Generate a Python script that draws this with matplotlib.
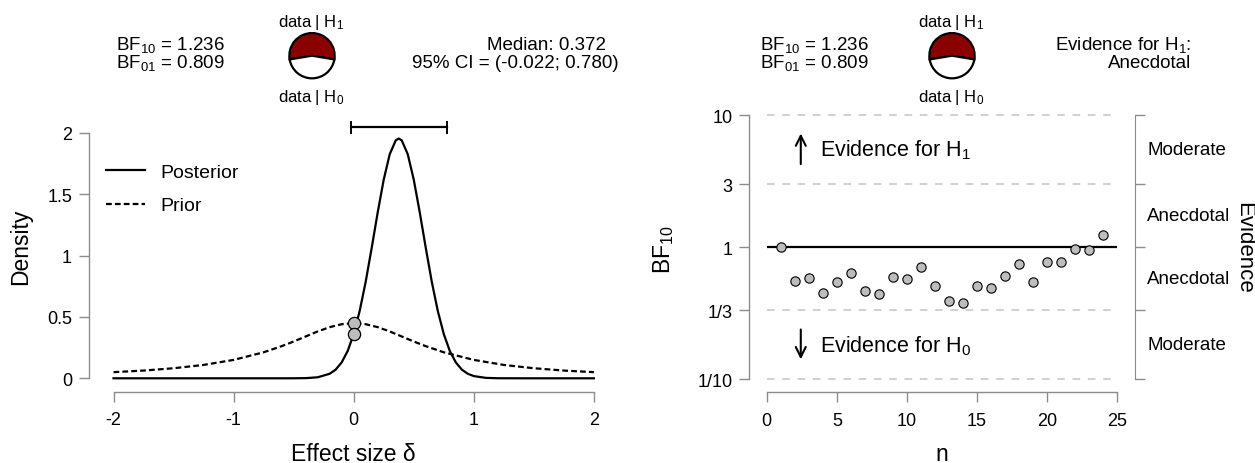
import numpy as np
import matplotlib
matplotlib.use("Agg")
import matplotlib.pyplot as plt
from matplotlib.patches import Wedge
from matplotlib.transforms import blended_transform_factory

plt.rcParams['font.family'] = ['Liberation Sans', 'DejaVu Sans']
plt.rcParams['mathtext.fontset'] = 'custom'
plt.rcParams['mathtext.rm'] = 'Liberation Sans'
plt.rcParams['mathtext.it'] = 'Liberation Sans:italic'

# ---------------------------------------------------------------
# data
# ---------------------------------------------------------------
post_x = [-2, -1, -0.6, -0.5, -0.4, -0.3, -0.2, -0.15, -0.1, -0.05, 0, 0.05, 0.1, 0.15,
          0.2, 0.25, 0.3, 0.35, 0.375, 0.4, 0.45, 0.5, 0.55, 0.6, 0.65, 0.7, 0.75, 0.8,
          0.85, 0.9, 0.95, 1.0, 1.1, 1.2, 1.4, 2]
post_y = [0, 0, 0, 0.0002, 0.0014, 0.0082, 0.037, 0.071, 0.130, 0.223, 0.361, 0.550, 0.788,
          1.064, 1.353, 1.620, 1.827, 1.940, 1.955, 1.940, 1.827, 1.620, 1.353, 1.064, 0.788,
          0.550, 0.361, 0.223, 0.130, 0.071, 0.037, 0.018, 0.0035, 0.0005, 0, 0]
prior_x = [-2, -1.75, -1.5, -1.25, -1, -0.75, -0.6, -0.5, -0.4, -0.3, -0.2, -0.1, 0,
           0.1, 0.2, 0.3, 0.4, 0.5, 0.6, 0.75, 1, 1.25, 1.5, 1.75, 2]
prior_y = [0.050, 0.063, 0.082, 0.109, 0.150, 0.212, 0.262, 0.300, 0.341, 0.382, 0.417,
           0.441, 0.450, 0.441, 0.417, 0.382, 0.341, 0.300, 0.262, 0.212, 0.150, 0.109,
           0.082, 0.063, 0.050]
dens_at_zero = [0.45, 0.36]
ci_low, ci_high = -0.022, 0.780
bf10, bf01 = 1.236, 0.809

n_obs = list(range(1, 25))
bf_seq = [1.0, 0.553, 0.583, 0.452, 0.544, 0.636, 0.465, 0.441, 0.593, 0.573, 0.710, 0.504,
          0.393, 0.381, 0.507, 0.495, 0.600, 0.752, 0.544, 0.778, 0.766, 0.971, 0.954, 1.236]
bf_ticks = [1 / 10, 1 / 3, 1, 3, 10]
bf_ticklabels = ["1/10", "1/3", "1", "3", "10"]
evid_pos = [np.sqrt(30), np.sqrt(3), 1 / np.sqrt(3), 1 / np.sqrt(30)]
evid_labels = ["Moderate", "Anecdotal", "Anecdotal", "Moderate"]

W, H = 1255, 464
GREY = "#8c8c8c"
DOT = "#bdbdbd"
RED = "#8b0000"

fig = plt.figure(figsize=(W / 100, H / 100), dpi=100)


def px(x0, y0, w, h):
    # pixel box (top-left origin) -> figure fraction rect
    return [x0 / W, 1 - (y0 + h) / H, w / W, h / H]


def ftext(x, y, s, **kw):
    return fig.text(x / W, 1 - y / H, s, **kw)


def style_spines(ax, left_out, bottom_out):
    ax.spines['top'].set_visible(False)
    ax.spines['right'].set_visible(False)
    for s in ('left', 'bottom'):
        ax.spines[s].set_color(GREY)
        ax.spines[s].set_linewidth(1.0)
    ax.spines['left'].set_position(('outward', left_out))
    ax.spines['bottom'].set_position(('outward', bottom_out))
    ax.tick_params(colors=GREY, length=7.2, width=1.0, labelcolor='black', labelsize=13)
    ax.tick_params(axis='y', pad=5)
    ax.tick_params(axis='x', pad=7)


def pie(cx, cy, d, share):
    pa = fig.add_axes(px(cx - d / 2, cy - d / 2, d, d))
    pa.set_xlim(-1.06, 1.06)
    pa.set_ylim(-1.06, 1.06)
    pa.axis('off')
    a = share * 180
    pa.add_patch(Wedge((0, 0), 1, 90 - a, 90 + a, facecolor=RED, edgecolor='black', lw=1.6))
    pa.add_patch(Wedge((0, 0), 1, 90 + a, 450 - a, facecolor='white', edgecolor='black', lw=1.6))


def header(x_left, x_pie, x_right, right_lines):
    ftext(x_left, 50, r"BF$_{\mathregular{10}}$ = %.3f" % bf10, ha='left', va='baseline',
          fontsize=13.5)
    ftext(x_left, 68, r"BF$_{\mathregular{01}}$ = %.3f" % bf01, ha='left', va='baseline',
          fontsize=13.5)
    ftext(x_pie, 27, r"data | H$_{\mathregular{1}}$", ha='center', va='baseline', fontsize=12)
    ftext(x_pie, 102, r"data | H$_{\mathregular{0}}$", ha='center', va='baseline', fontsize=12)
    pie(x_pie + 1, 56.7, 48, bf10 / (1 + bf10))
    for (xr, yb, s) in zip(x_right, (50, 68), right_lines):
        ftext(xr, yb, s, ha='right', va='baseline', fontsize=13.5)


# ---------------------------------------------------------------
# left: prior and posterior
# ---------------------------------------------------------------
ax1 = fig.add_axes(px(113.5, 134, 480.4, 245.3))
ax1.set_xlim(-2, 2)
ax1.set_ylim(0, 2)
ax1.patch.set_visible(False)
style_spines(ax1, 17.6, 9.6)
ax1.spines['left'].set_bounds(0, 2)
ax1.spines['bottom'].set_bounds(-2, 2)
ax1.set_yticks([0, 0.5, 1, 1.5, 2])
ax1.set_yticklabels(["0", "0.5", "1", "1.5", "2"])
ax1.set_xticks([-2, -1, 0, 1, 2])
ax1.set_xticklabels(["-2", "-1", "0", "1", "2"])

ax1.plot(post_x, post_y, color='black', lw=1.6, clip_on=False, label="Posterior")
ax1.plot(prior_x, prior_y, color='black', lw=1.6, ls=(0, (2.6, 1.4)), clip_on=False,
         label="Prior")
ax1.plot([0, 0], dens_at_zero, ls='none', marker='o', ms=8.8, mfc=DOT, mec='black',
         mew=0.9, clip_on=False, zorder=5)

# credible interval bar
ax1.plot([ci_low, ci_high], [2.046, 2.046], color='black', lw=1.6, clip_on=False)
for xv in (ci_low, ci_high):
    ax1.plot([xv, xv], [2.0, 2.09], color='black', lw=1.4, clip_on=False)

ax1.legend(loc='upper left', bbox_to_anchor=(-0.0156, 0.875), frameon=False, fontsize=14,
           handlelength=2.0, handletextpad=0.8, labelspacing=0.8, borderpad=0,
           borderaxespad=0)

ftext(20.4, 246.7, "Density", rotation=90, ha='center', va='center', fontsize=16.5)
ftext(353, 455, "Effect size δ", ha='center', va='center', fontsize=16.5)

header(116.3, 311, (606, 618.4),
       ["Median: 0.372", "95%% CI = (%.3f; %.3f)" % (ci_low, ci_high)])

# ---------------------------------------------------------------
# right: sequential Bayes factor
# ---------------------------------------------------------------
ax2 = fig.add_axes(px(766.7, 116, 350.6, 264.3))
ax2.set_yscale('log')
ax2.set_xlim(0, 25)
ax2.set_ylim(1 / 10, 10)
ax2.patch.set_visible(False)
style_spines(ax2, 12.5, 9.4)
ax2.spines['left'].set_bounds(1 / 10, 10)
ax2.spines['bottom'].set_bounds(0, 25)
ax2.set_yticks(bf_ticks)
ax2.set_yticklabels(bf_ticklabels)
ax2.yaxis.set_minor_locator(matplotlib.ticker.NullLocator())
ax2.set_xticks([0, 5, 10, 15, 20, 25])

for yv in (1 / 10, 1 / 3, 3, 10):
    ax2.plot([0, 25], [yv, yv], color="#c4c4c4", lw=1.1, ls=(0, (5, 5)), clip_on=False)
ax2.plot([0, 25], [1, 1], color='black', lw=1.6)
ax2.plot(n_obs, bf_seq, ls='none', marker='o', ms=6.7, mfc=DOT, mec='black', mew=0.8,
         zorder=5, clip_on=False)

ax2.annotate("", xy=(2.43, 7.6), xytext=(2.43, 4.05),
             arrowprops=dict(arrowstyle='->', lw=1.5, color='black', mutation_scale=18))
ax2.annotate("", xy=(2.43, 0.135), xytext=(2.43, 0.25),
             arrowprops=dict(arrowstyle='->', lw=1.5, color='black', mutation_scale=18))
ax2.text(3.83, np.sqrt(30), r"Evidence for H$_{\mathregular{1}}$", ha='left', va='center',
         fontsize=15.5)
ax2.text(3.83, 1 / np.sqrt(30), r"Evidence for H$_{\mathregular{0}}$", ha='left',
         va='center', fontsize=15.5)

# evidence axis on the right
ev = ax2.twinx()
ev.set_yscale('log')
ev.set_ylim(1 / 10, 10)
for s in ('top', 'left', 'bottom'):
    ev.spines[s].set_visible(False)
ev.spines['right'].set_color(GREY)
ev.spines['right'].set_position(('outward', 12.7))
ev.spines['right'].set_bounds(1 / 10, 10)
ev.set_yticks(bf_ticks)
ev.set_yticklabels([])
ev.yaxis.set_minor_locator(matplotlib.ticker.NullLocator())
ev.tick_params(axis='y', colors=GREY, length=7.2, width=1.0)
tr = blended_transform_factory(ax2.transAxes, ax2.transData)
for yv, lab in zip(evid_pos, evid_labels):
    ax2.text(1.085, yv, lab, transform=tr, ha='left', va='center', fontsize=13.5)
ax2.text(1.359, 1, "Evidence", transform=tr, rotation=-90, ha='center', va='center',
         fontsize=16)

ftext(663.5, 250, r"BF$_{\mathregular{10}}$", rotation=90, ha='center', va='center',
      fontsize=16.5)
ftext(942, 455, "n", ha='center', va='center', fontsize=16.5)

header(759.6, 951, (1191, 1191), [r"Evidence for H$_{\mathregular{1}}$:", "Anecdotal"])

fig.savefig("out.png", dpi=100)
